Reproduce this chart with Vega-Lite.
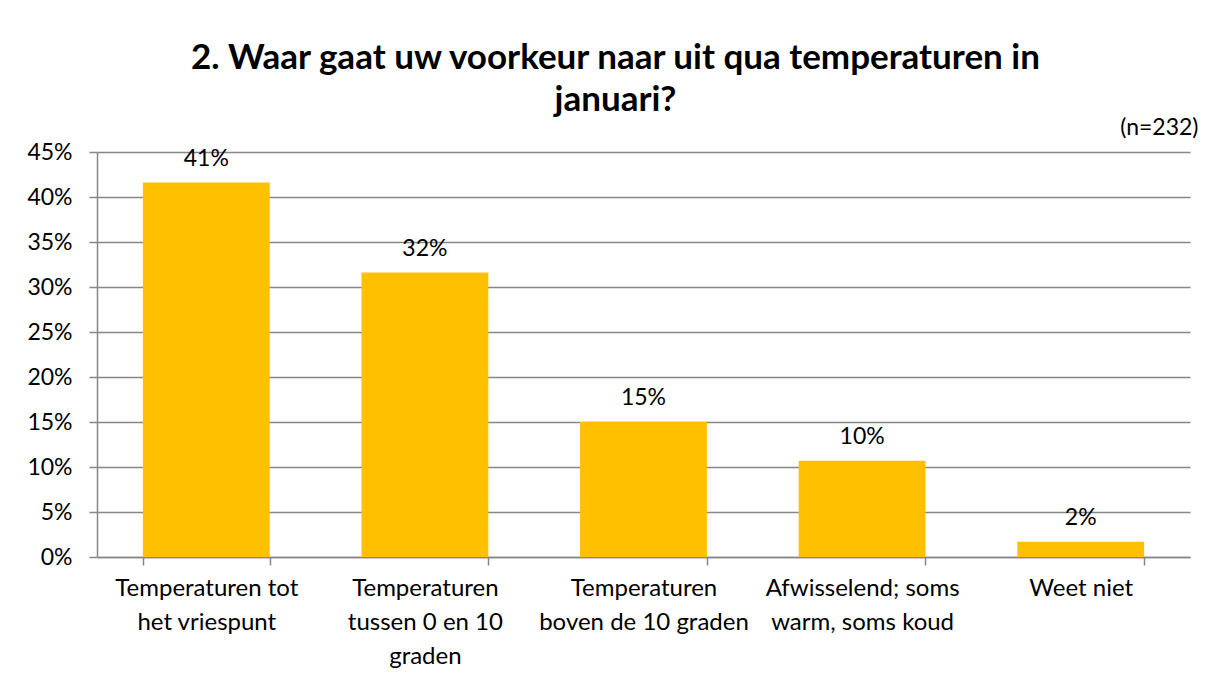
{
  "$schema": "https://vega.github.io/schema/vega-lite/v6.json",
  "width": 1093,
  "height": 405,
  "autosize": "none",
  "padding": {"left": 97, "top": 152, "right": 24, "bottom": 127},
  "background": "white",
  "title": {
    "text": ["2. Waar gaat uw voorkeur naar uit qua temperaturen in", "januari?"],
    "font": "Lato",
    "fontSize": 35,
    "fontWeight": "bold",
    "color": "black",
    "lineHeight": 42,
    "anchor": "middle",
    "frame": "group",
    "dx": -28,
    "offset": -2
  },
  "data": {
    "values": [
      {"cat": "Temperaturen tot|het vriespunt", "pct": 41.6, "label": "41%"},
      {"cat": "Temperaturen|tussen 0 en 10|graden", "pct": 31.6, "label": "32%"},
      {"cat": "Temperaturen|boven de 10 graden", "pct": 15.0, "label": "15%"},
      {"cat": "Afwisselend; soms|warm, soms koud", "pct": 10.7, "label": "10%"},
      {"cat": "Weet niet", "pct": 1.7, "label": "2%"}
    ]
  },
  "encoding": {
    "x": {
      "field": "cat",
      "type": "nominal",
      "sort": null,
      "scale": {"paddingInner": 0.42, "paddingOuter": 0.21}
    },
    "y": {
      "field": "pct",
      "type": "quantitative",
      "scale": {"domain": [0, 45]},
      "axis": {
        "title": null,
        "values": [0, 5, 10, 15, 20, 25, 30, 35, 40, 45],
        "labelExpr": "datum.value + '%'",
        "labelFont": "Lato",
        "labelFontSize": 23,
        "labelColor": "black",
        "labelPadding": 17,
        "tickSize": 8,
        "tickColor": "#878787",
        "tickWidth": 1.5,
        "domainColor": "#878787",
        "domainWidth": 1.5,
        "grid": true,
        "gridColor": "#878787",
        "gridWidth": 1.4
      }
    }
  },
  "layer": [
    {
      "mark": {"type": "bar", "color": "#FFC000"},
      "encoding": {
        "x": {
          "field": "cat",
          "type": "nominal",
          "sort": null,
          "axis": {
            "title": null,
            "labelAngle": 0,
            "labelExpr": "split(datum.label, '|')",
            "labelFont": "Lato",
            "labelFontSize": 24,
            "labelColor": "black",
            "labelLimit": 400,
            "labelLineHeight": 34,
            "labelPadding": 11,
            "labelBaseline": "top",
            "tickBand": "extent",
            "tickSize": 8,
            "tickColor": "#878787",
            "tickWidth": 1.5,
            "domainColor": "#878787",
            "domainWidth": 1.5,
            "grid": false
          }
        }
      }
    },
    {
      "mark": {"type": "text", "font": "Lato", "fontSize": 23, "color": "black", "baseline": "alphabetic", "dy": -17},
      "encoding": {
        "x": {
          "field": "cat",
          "type": "nominal",
          "sort": null,
          "axis": {
            "orient": "top",
            "title": "(n=232)",
            "titleFont": "Lato",
            "titleFontSize": 23,
            "titleFontWeight": "normal",
            "titleColor": "black",
            "titleAlign": "right",
            "titleX": 1101,
            "titleY": -18,
            "titleBaseline": "alphabetic",
            "labels": false,
            "ticks": false,
            "domain": false,
            "grid": false
          }
        },
        "text": {"field": "label"}
      }
    }
  ],
  "resolve": {"axis": {"x": "independent"}},
  "config": {"view": {"stroke": null}}
}
